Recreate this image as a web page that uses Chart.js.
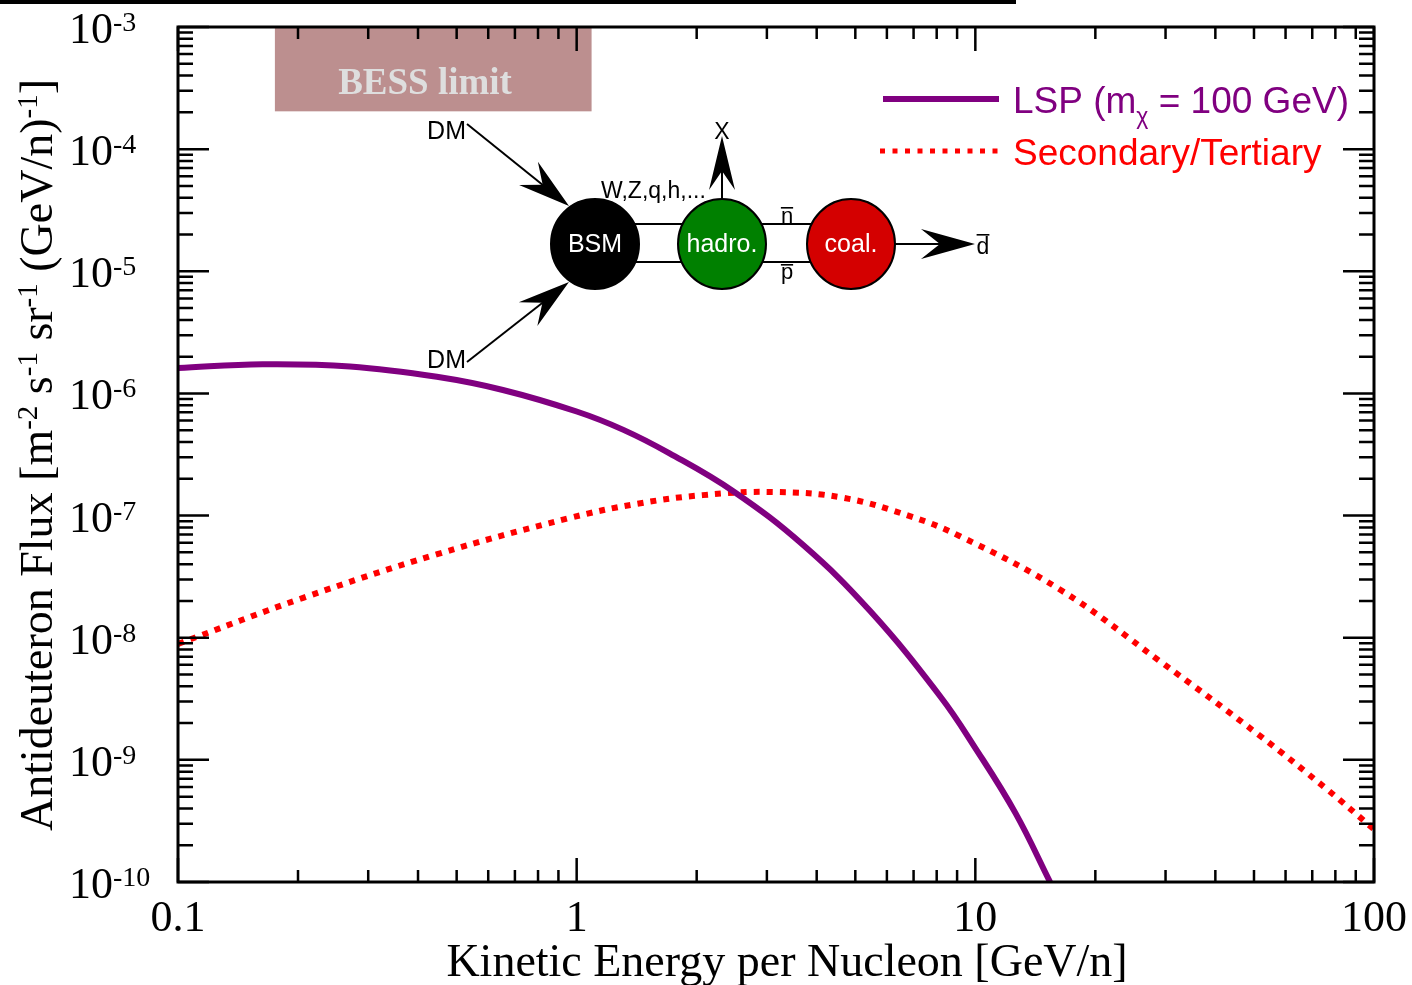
<!DOCTYPE html>
<html lang="en">
<head>
<meta charset="UTF-8">
<title>Antideuteron Flux</title>
<script src="https://cdn.jsdelivr.net/npm/chart.js"></script>
<style>
  body { margin: 0; background: #fff; }
  #wrap { position: relative; width: 1412px; height: 985px; }
</style>
</head>
<body>
<div id="wrap"><canvas id="fluxChart"></canvas></div>
<script>
// values: kinetic energy per nucleon [GeV/n] and flux
const lspEnergy = [0.1, 0.163, 0.27, 0.446, 0.653, 1.0, 1.31, 1.71, 2.47, 3.70, 5.44, 8.16, 10, 12.6, 15.4];
const lspFlux   = [1.615e-6, 1.735e-6, 1.664e-6, 1.368e-6, 1.067e-6, 7.11e-7, 5.03e-7, 3.23e-7, 1.58e-7,
                   5.73e-8, 1.66e-8, 3.32e-9, 1.25e-9, 3.68e-10, 1.0e-10];

const secEnergy = [0.1, 0.206, 0.447, 0.962, 1.42, 2.07, 3.11, 4.66, 6.85, 9.15, 16.3, 29.0, 51.8, 76.2, 100];
const secFlux   = [8.9e-9, 2.12e-8, 4.83e-8, 9.57e-8, 1.25e-7, 1.47e-7, 1.56e-7, 1.40e-7, 9.9e-8, 6.78e-8, 2.48e-8, 6.44e-9, 1.57e-9, 5.74e-10, 2.7e-10];

const xTickValues = [0.1, 1, 10, 100];
const xTickLabels = ['0.1', '1', '10', '100'];
const yTickExponents = [-3, -4, -5, -6, -7, -8, -9, -10];

// BESS upper limit box
const bessEnergy = [0.175, 1.09];
const bessFlux = [2.04e-4, 1e-3];

const SERIF = '"Liberation Serif", "Times New Roman", serif';
const SANS = '"Liberation Sans", Arial, sans-serif';

// draw text made of normal and superscript pieces, starting at x
function drawParts(ctx, parts, x, y, size, supSize, rise) {
  let cx = x;
  parts.forEach(p => {
    ctx.font = (p.sup ? supSize : size) + 'px ' + SERIF;
    ctx.fillText(p.t, cx, p.sup ? y - rise : y);
    cx += ctx.measureText(p.t).width;
  });
  return cx - x;
}
function partsWidth(ctx, parts, size, supSize) {
  let w = 0;
  parts.forEach(p => {
    ctx.font = (p.sup ? supSize : size) + 'px ' + SERIF;
    w += ctx.measureText(p.t).width;
  });
  return w;
}

// notched arrow head, line from (x1,y1) to tip (x2,y2)
function arrow(ctx, x1, y1, x2, y2, len, half) {
  const a = Math.atan2(y2 - y1, x2 - x1);
  const c = Math.cos(a), s = Math.sin(a);
  ctx.beginPath();
  ctx.moveTo(x1, y1);
  ctx.lineTo(x2 - c * len * 0.6, y2 - s * len * 0.6);
  ctx.stroke();
  ctx.beginPath();
  ctx.moveTo(x2, y2);
  ctx.lineTo(x2 - c * len - s * half, y2 - s * len + c * half);
  ctx.lineTo(x2 - c * len * 0.65, y2 - s * len * 0.65);
  ctx.lineTo(x2 - c * len + s * half, y2 - s * len - c * half);
  ctx.closePath();
  ctx.fill();
}

function blob(ctx, cx, cy, fill, label) {
  ctx.beginPath();
  ctx.ellipse(cx, cy, 44, 45, 0, 0, Math.PI * 2);
  ctx.fillStyle = fill;
  ctx.fill();
  ctx.lineWidth = 2;
  ctx.strokeStyle = '#000';
  ctx.stroke();
  ctx.fillStyle = '#fff';
  ctx.font = '25px ' + SANS;
  ctx.textAlign = 'center';
  ctx.textBaseline = 'middle';
  ctx.fillText(label, cx, cy + 1);
  ctx.textBaseline = 'alphabetic';
}

function barText(ctx, t, cx, base, size, barY) {
  ctx.font = size + 'px ' + SANS;
  ctx.textAlign = 'center';
  ctx.fillText(t, cx, base);
  const w = ctx.measureText(t).width;
  ctx.fillRect(cx - w / 2, barY, w, 1.6);
}

function drawDiagram(ctx) {
  ctx.save();
  ctx.strokeStyle = '#000';
  ctx.fillStyle = '#000';
  ctx.lineWidth = 2;
  // connections
  ctx.beginPath();
  ctx.moveTo(630, 224); ctx.lineTo(690, 224);
  ctx.moveTo(630, 262); ctx.lineTo(690, 262);
  ctx.moveTo(756, 224); ctx.lineTo(818, 224);
  ctx.moveTo(756, 262); ctx.lineTo(818, 262);
  ctx.stroke();
  arrow(ctx, 467, 124, 569, 206, 52, 15);
  arrow(ctx, 467, 362, 569, 282, 52, 15);
  arrow(ctx, 722, 200, 722, 136, 54, 13);
  arrow(ctx, 894, 244, 975, 244, 54, 15);
  blob(ctx, 595, 244, '#000', 'BSM');
  blob(ctx, 722, 244, '#008000', 'hadro.');
  blob(ctx, 851, 244, '#d40000', 'coal.');
  ctx.fillStyle = '#000';
  ctx.font = '25px ' + SANS;
  ctx.textAlign = 'right';
  ctx.fillText('DM', 466, 139);
  ctx.fillText('DM', 466, 368);
  ctx.textAlign = 'center';
  ctx.font = '23px ' + SANS;
  ctx.fillText('X', 722, 139);
  ctx.textAlign = 'left';
  ctx.font = '23px ' + SANS;
  ctx.fillText('W,Z,q,h,...', 601, 198);
  barText(ctx, 'n', 787, 223, 22, 207);
  barText(ctx, 'p', 787, 279, 22, 264);
  barText(ctx, 'd', 983, 254, 23, 234);
  ctx.restore();
}

const frame = {
  id: 'frame',
  beforeDatasetsDraw(chart) {
    const { ctx, scales: { x, y } } = chart;
    const l = x.getPixelForValue(bessEnergy[0]), r = x.getPixelForValue(bessEnergy[1]);
    const t = y.getPixelForValue(bessFlux[1]), b = y.getPixelForValue(bessFlux[0]);
    ctx.save();
    ctx.fillStyle = '#bc8f8f';
    ctx.fillRect(l, t, r - l, b - t);
    ctx.fillStyle = '#dedede';
    ctx.font = 'bold 37px ' + SERIF;
    ctx.textAlign = 'center';
    ctx.fillText('BESS limit', 425, t + 67);
    ctx.restore();
  },
  afterDatasetsDraw(chart) {
    const { ctx, chartArea: a, scales: { x, y } } = chart;
    ctx.save();
    ctx.strokeStyle = '#000';
    ctx.fillStyle = '#000';

    // ticks on all four sides, pointing inward
    ctx.lineWidth = 2.5;
    ctx.beginPath();
    for (let e = -1; e <= 2; e++) {
      for (let m = 1; m <= 9; m++) {
        const v = m * Math.pow(10, e);
        if (v > 100.0001) break;
        const px = x.getPixelForValue(v);
        const len = m === 1 ? 24 : 12;
        ctx.moveTo(px, a.bottom); ctx.lineTo(px, a.bottom - len);
        ctx.moveTo(px, a.top); ctx.lineTo(px, a.top + len);
      }
    }
    for (let e = -10; e <= -3; e++) {
      for (let m = 1; m <= 9; m++) {
        const v = m * Math.pow(10, e);
        if (v > 1.0001e-3) break;
        const py = y.getPixelForValue(v);
        const len = m === 1 ? 31 : 15;
        ctx.moveTo(a.left, py); ctx.lineTo(a.left + len, py);
        ctx.moveTo(a.right, py); ctx.lineTo(a.right - len, py);
      }
    }
    ctx.stroke();
    ctx.lineWidth = 3;
    ctx.strokeRect(a.left, a.top, a.right - a.left, a.bottom - a.top);

    // tick labels
    ctx.font = '44px ' + SERIF;
    ctx.textAlign = 'center';
    xTickValues.forEach((v, i) => {
      ctx.fillText(xTickLabels[i], x.getPixelForValue(v), 931);
    });
    ctx.textAlign = 'left';
    yTickExponents.forEach(e => {
      const py = y.getPixelForValue(Math.pow(10, e));
      drawParts(ctx, [{ t: '10' }, { t: String(e), sup: true }], 69, py + 16, 44, 28, 12);
    });

    // axis titles
    ctx.textAlign = 'center';
    ctx.font = '46px ' + SERIF;
    ctx.fillText('Kinetic Energy per Nucleon [GeV/n]', 787, 976);

    const yTitle = [
      { t: 'Antideuteron Flux [m' }, { t: '-2', sup: true },
      { t: ' s' }, { t: '-1', sup: true },
      { t: ' sr' }, { t: '-1', sup: true },
      { t: ' (GeV/n)' }, { t: '-1', sup: true },
      { t: ']' }
    ];
    ctx.textAlign = 'left';
    const w = partsWidth(ctx, yTitle, 46, 29);
    ctx.translate(52, 455);
    ctx.rotate(-Math.PI / 2);
    drawParts(ctx, yTitle, -w / 2, 0, 46, 29, 15);
    ctx.setTransform(1, 0, 0, 1, 0, 0);

    // legend
    ctx.lineWidth = 6;
    ctx.strokeStyle = '#800080';
    ctx.beginPath(); ctx.moveTo(883, 99); ctx.lineTo(999, 99); ctx.stroke();
    ctx.strokeStyle = '#ff0000';
    ctx.lineWidth = 5;
    ctx.setLineDash([5, 7.5]);
    ctx.beginPath(); ctx.moveTo(880, 151); ctx.lineTo(999, 151); ctx.stroke();
    ctx.setLineDash([]);
    ctx.fillStyle = '#800080';
    ctx.font = '37px ' + SANS;
    let lx = 1013;
    ctx.fillText('LSP (m', lx, 113);
    lx += ctx.measureText('LSP (m').width;
    ctx.font = '23px ' + SANS;
    ctx.fillText('\u03c7', lx, 124);
    lx += ctx.measureText('\u03c7').width;
    ctx.font = '37px ' + SANS;
    ctx.fillText(' = 100 GeV)', lx, 113);
    ctx.fillStyle = '#ff0000';
    ctx.fillText('Secondary/Tertiary', 1013, 165);

    drawDiagram(ctx);

    // dark bar along the top edge of the figure
    ctx.fillStyle = '#000';
    ctx.fillRect(0, 0, 1016, 4);
    ctx.restore();
  }
};

new Chart(document.getElementById('fluxChart'), {
  type: 'line',
  data: {
    datasets: [
      {
        label: 'LSP (m\u03c7 = 100 GeV)',
        data: lspEnergy.map((e, i) => ({ x: e, y: lspFlux[i] })),
        borderColor: '#800080',
        borderWidth: 6,
        pointRadius: 0,
        tension: 0.4,
        fill: false
      },
      {
        label: 'Secondary/Tertiary',
        data: secEnergy.map((e, i) => ({ x: e, y: secFlux[i] })),
        borderColor: '#ff0000',
        borderWidth: 6,
        borderDash: [6, 7],
        borderCapStyle: 'butt',
        pointRadius: 0,
        tension: 0.4,
        fill: false
      }
    ]
  },
  options: {
    responsive: true,
    maintainAspectRatio: false,
    animation: false,
    events: [],
    layout: { padding: { left: 178, right: 38, top: 27, bottom: 103 } },
    plugins: { legend: { display: false }, tooltip: { enabled: false } },
    scales: {
      x: { type: 'logarithmic', min: 0.1, max: 100, display: false },
      y: { type: 'logarithmic', min: 1e-10, max: 1e-3, display: false }
    }
  },
  plugins: [frame]
});
</script>
</body>
</html>
